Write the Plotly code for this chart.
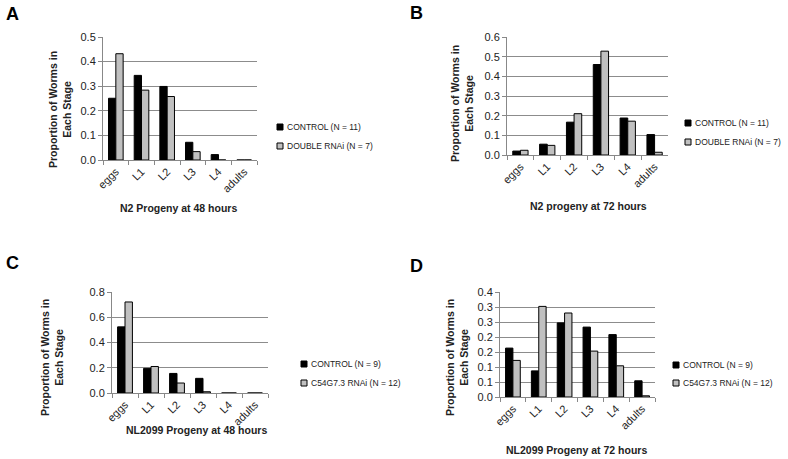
import plotly.graph_objects as go

stages = ["eggs", "L1", "L2", "L3", "L4", "adults"]

a_control = [0.251, 0.344, 0.299, 0.072, 0.022, 0.0]
a_double = [0.432, 0.284, 0.258, 0.034, 0.0, 0.0]

b_control = [0.020, 0.055, 0.167, 0.460, 0.188, 0.104]
b_double = [0.024, 0.049, 0.210, 0.528, 0.172, 0.014]

c_control = [0.524, 0.195, 0.155, 0.116, 0.0, 0.0]
c_c54 = [0.721, 0.210, 0.079, 0.010, 0.0, 0.0]

d_control = [0.163, 0.087, 0.247, 0.233, 0.208, 0.054]
d_c54 = [0.122, 0.302, 0.280, 0.153, 0.104, 0.004]

d_tickvals = [0, 0.05, 0.1, 0.15, 0.2, 0.25, 0.3, 0.35]
d_ticktext = ["0.0", "0.1", "0.1", "0.2", "0.2", "0.3", "0.3", "0.4"]

W, H = 788, 459
FONT = "Liberation Sans"
CTRL_COLOR = "#000000"
TRT_COLOR = "#c0c0c0"

panels = [
    dict(key="", ctrl=a_control, trt=a_double, ctrl_name="CONTROL (N = 11)", trt_name="DOUBLE RNAi (N = 7)",
         box=(103, 257, 37, 160), yr=[0, 0.5], dtick=0.1, letter="A", letter_xy=(12, 14),
         ytitle_xy=(60, 110), xtitle="N2 Progeny at 48 hours", xtitle_xy=(178, 208),
         leg=(280, 127, 146)),
    dict(key="2", ctrl=b_control, trt=b_double, ctrl_name="CONTROL (N = 11)", trt_name="DOUBLE RNAi (N = 7)",
         box=(507, 668, 37, 155), yr=[0, 0.6], dtick=0.1, letter="B", letter_xy=(416, 13),
         ytitle_xy=(462, 104), xtitle="N2 progeny at 72 hours", xtitle_xy=(588, 206),
         leg=(688, 123, 142)),
    dict(key="3", ctrl=c_control, trt=c_c54, ctrl_name="CONTROL (N = 9)", trt_name="C54G7.3 RNAi (N = 12)",
         box=(112, 268, 292, 393), yr=[0, 0.8], dtick=0.2, letter="C", letter_xy=(12, 263),
         ytitle_xy=(52, 358), xtitle="NL2099 Progeny at 48 hours", xtitle_xy=(196, 430),
         leg=(304, 364, 383)),
    dict(key="4", ctrl=d_control, trt=d_c54, ctrl_name="CONTROL (N = 9)", trt_name="C54G7.3 RNAi (N = 12)",
         box=(500, 655, 292, 397), yr=[0, 0.35], dtick=None, letter="D", letter_xy=(416, 266),
         ytitle_xy=(457, 358), xtitle="NL2099 Progeny at 72 hours", xtitle_xy=(576, 450),
         leg=(676, 365, 383)),
]

fig = go.Figure()
annotations = []
shapes = []
layout = {}

def px(x):
    return x / W

def py(y):
    return 1 - y / H

for p in panels:
    k = p["key"]
    xa = "x" + k
    ya = "y" + k
    fig.add_trace(go.Bar(x=stages, y=p["ctrl"], name=p["ctrl_name"], xaxis=xa, yaxis=ya,
                         marker=dict(color=CTRL_COLOR, line=dict(color="#000000", width=1)),
                         showlegend=False))
    fig.add_trace(go.Bar(x=stages, y=p["trt"], name=p["trt_name"], xaxis=xa, yaxis=ya,
                         marker=dict(color=TRT_COLOR, line=dict(color="#000000", width=1)),
                         showlegend=False))
    x0, x1, y0, y1 = p["box"]
    xaxis = dict(domain=[px(x0), px(x1)], anchor=ya, tickangle=-45, automargin=False,
                 showline=True, linecolor="#888888", linewidth=1,
                 ticks="outside", tickson="boundaries", ticklen=4, tickcolor="#888888",
                 tickfont=dict(family=FONT, size=11, color="#222222"), showgrid=False)
    yaxis = dict(domain=[py(y1), py(y0)], anchor=xa, range=p["yr"], automargin=False,
                 showline=True, linecolor="#888888", linewidth=1,
                 ticks="outside", ticklen=4, tickcolor="#888888",
                 showgrid=True, gridcolor="#8c8c8c", gridwidth=1, zeroline=False,
                 tickfont=dict(family=FONT, size=11, color="#222222"))
    if p["dtick"] is not None:
        yaxis.update(dtick=p["dtick"], tick0=0, tickformat=".1f")
    else:
        yaxis.update(tickmode="array", tickvals=d_tickvals, ticktext=d_ticktext)
    layout["xaxis" + k] = xaxis
    layout["yaxis" + k] = yaxis

    lx, ly1, ly2 = p["leg"]
    for yy, name, col in ((ly1, p["ctrl_name"], CTRL_COLOR), (ly2, p["trt_name"], TRT_COLOR)):
        shapes.append(dict(type="rect", xref="paper", yref="paper",
                           x0=px(lx - 3), x1=px(lx + 3), y0=py(yy + 3), y1=py(yy - 3),
                           fillcolor=col, line=dict(color="#000000", width=1)))
        annotations.append(dict(text=name, x=px(lx + 5), y=py(yy), xref="paper", yref="paper",
                                showarrow=False, xanchor="left", yanchor="middle",
                                font=dict(family=FONT, size=8.5, color="#222222")))

    annotations.append(dict(text="<b>%s</b>" % p["letter"], x=px(p["letter_xy"][0]), y=py(p["letter_xy"][1]),
                            xref="paper", yref="paper", showarrow=False, xanchor="center", yanchor="middle",
                            font=dict(family=FONT, size=18, color="#000000")))
    annotations.append(dict(text="<b>Proportion of Worms in<br>Each Stage</b>", textangle=-90,
                            x=px(p["ytitle_xy"][0]), y=py(p["ytitle_xy"][1]),
                            xref="paper", yref="paper", showarrow=False, xanchor="center", yanchor="middle",
                            font=dict(family=FONT, size=10.5, color="#222222")))
    annotations.append(dict(text="<b>%s</b>" % p["xtitle"], x=px(p["xtitle_xy"][0]), y=py(p["xtitle_xy"][1]),
                            xref="paper", yref="paper", showarrow=False, xanchor="center", yanchor="middle",
                            font=dict(family=FONT, size=10.5, color="#222222")))

fig.update_layout(width=W, height=H, margin=dict(l=0, r=0, t=0, b=0, autoexpand=False),
                  paper_bgcolor="white", plot_bgcolor="white", showlegend=False,
                  barmode="group", bargap=0.43, bargroupgap=0.0,
                  annotations=annotations, shapes=shapes, **layout)

fig.write_html("out.html", config={"displayModeBar": False},
               post_script="document.body.style.margin='0';document.body.style.padding='0';document.body.style.overflow='hidden';")
